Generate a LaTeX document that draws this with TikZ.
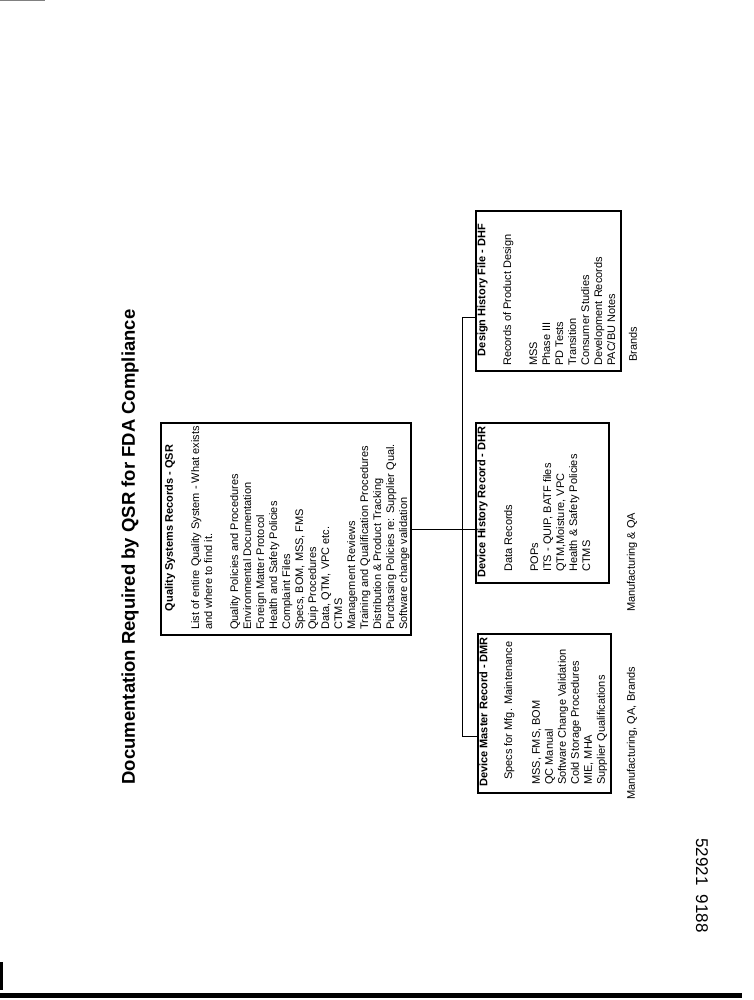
\documentclass[tikz,border=0pt]{standalone}
\usepackage{fontspec}
\setmainfont{Liberation Sans}
\begin{document}
\begin{tikzpicture}[x=1pt,y=-1pt,
  recbox/.style={draw, line width=2.3pt, inner sep=0pt, anchor=north west},
  hdr/.style={rotate=90, inner sep=0pt, font=\fontsize{11}{13}\selectfont\bfseries},
  body/.style={rotate=90, inner sep=0pt, anchor=north west, align=left, font=\fontsize{11}{13}\selectfont},
  lbl/.style={rotate=90, inner sep=0pt, anchor=west, font=\fontsize{11}{13}\selectfont},
  conn/.style={line width=1pt}]
\useasboundingbox (0,0) rectangle (754,1000);
% scan edges
\fill (0,993) rectangle (742,998);
\fill (0,962) rectangle (3,990);
\draw[gray, line width=1pt] (0,0.5) -- (45,0.5);
% title
\node[rotate=90, inner sep=0pt, font=\fontsize{18.5}{22}\selectfont\bfseries] (title) at (130,547) {Documentation Required by QSR for FDA Compliance};
% boxes
\node[recbox, minimum width=250pt, minimum height=212pt] (qsr) at (160,422) {};
\node[recbox, minimum width=133pt, minimum height=159pt] (dmr) at (477,633) {};
\node[recbox, minimum width=133pt, minimum height=160pt] (dhr) at (475,422) {};
\node[recbox, minimum width=145pt, minimum height=160pt] (dhf) at (475,210) {};
% QSR text
\node[hdr] (qsrh) at (170,528) {Quality Systems Records - QSR};
\node[body] (qsrb) at (191,630) {List of entire Quality System - What exists\\
and where to find it.\\[13pt]
Quality Policies and Procedures\\
Environmental Documentation\\
Foreign Matter Protocol\\
Health and Safety Policies\\
Complaint Files\\
Specs, BOM, MSS, FMS\\
Quip Procedures\\
Data, QTM, VPC etc.\\
CTMS\\
Management Reviews\\
Training and Qualification Procedures\\
Distribution \& Product Tracking\\
Purchasing Policies re: Supplier Qual.\\
Software change validation};
% DMR text
\node[hdr] (dmrh) at (483.5,712) {Device Master Record - DMR};
\node[body] (dmrs) at (504,780) {Specs for Mfg. Maintenance};
\node[body] (dmrb) at (532,785) {MSS, FMS, BOM\\
QC Manual\\
Software Change Validation\\
Cold Storage Procedures\\
MIE, MHA\\
Supplier Qualifications};
% DHR text
\node[hdr] (dhrh) at (482.5,502) {Device History Record - DHR};
\node[body] (dhrb) at (504,572) {Data Records\\[13pt]
POPs\\
ITS - QUIP, BATF files\\
QTM,Moisture, VPC\\
Health \& Safety Policies\\
CTMS};
% DHF text
\node[hdr] (dhfh) at (482.5,290) {Design History File - DHF};
\node[body] (dhfb) at (503,366) {Records of Product Design\\[13pt]
MSS\\
Phase III\\
PD Tests\\
Transition\\
Consumer Studies\\
Development Records\\
PAC/BU Notes};
% bottom labels
\node[lbl] (l1) at (632,800) {Manufacturing, QA, Brands};
\node[lbl] (l2) at (632,612) {Manufacturing \& QA};
\node[lbl] (l3) at (633,362) {Brands};
% number
\node[rotate=-90, inner sep=0pt, anchor=west, font=\fontsize{17}{20}\selectfont] (num) at (702,838) {52921\ \ 9188};
% connectors
\coordinate (jtop) at (462,317);
\coordinate (jbot) at (462,736);
\draw[conn] (qsr.east) -- (qsr.east -| dhr.west);
\draw[conn] (jtop) -- (jtop -| dhf.west);
\draw[conn] (jtop) -- (jbot) -- (jbot -| dmr.west);
\end{tikzpicture}
\end{document}
